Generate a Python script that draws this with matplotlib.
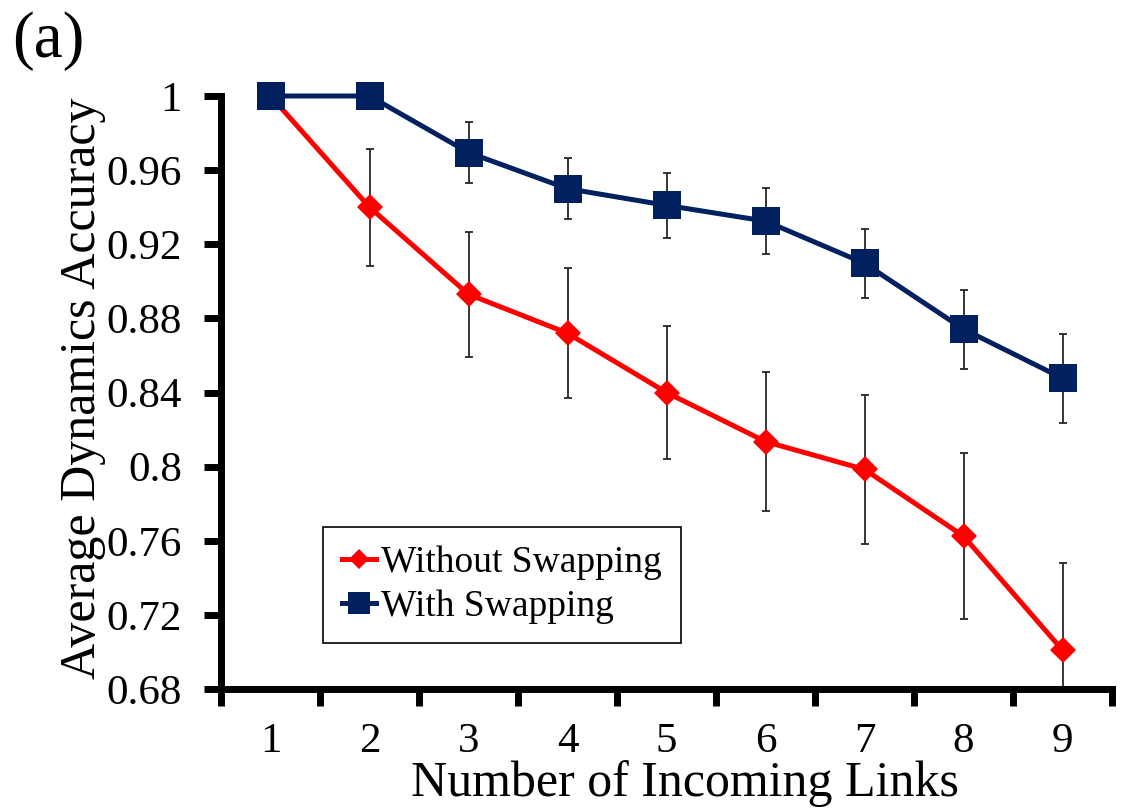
import matplotlib
matplotlib.use("Agg")
import matplotlib.pyplot as plt
from matplotlib.ticker import FixedLocator

plt.rcParams["font.family"] = ["Liberation Serif", "DejaVu Serif"]

# data
links = [1, 2, 3, 4, 5, 6, 7, 8, 9]
without_swap = [1.0, 0.940, 0.893, 0.872, 0.840, 0.8135, 0.7985, 0.7625, 0.701]
without_err = [0.0, 0.0315, 0.0337, 0.035, 0.036, 0.0376, 0.040, 0.0447, 0.047]
with_swap = [1.0, 1.0, 0.9695, 0.950, 0.941, 0.9325, 0.9097, 0.8742, 0.8477]
with_err = [0.0, 0.0, 0.0165, 0.0165, 0.0174, 0.0178, 0.0187, 0.0213, 0.024]
y_ticks = [0.68, 0.72, 0.76, 0.8, 0.84, 0.88, 0.92, 0.96, 1.0]
y_tick_labels = ["0.68", "0.72", "0.76", "0.8", "0.84", "0.88", "0.92", "0.96", "1"]

RED = "#FF0000"
NAVY = "#002060"
ERR = "#262626"

fig = plt.figure(figsize=(11.26, 8.09), dpi=100)
ax = fig.add_axes([0.19627, 0.14833, 0.79130, 0.73300])

ax.errorbar(links, without_swap, yerr=without_err, fmt="none",
            ecolor=ERR, elinewidth=1.3, capsize=2.9, capthick=1.3, zorder=2)
ax.errorbar(links, with_swap, yerr=with_err, fmt="none",
            ecolor=ERR, elinewidth=1.3, capsize=2.9, capthick=1.3, zorder=2)

ax.plot(links, without_swap, color=RED, lw=3.6, marker="D", ms=13.7,
        mew=0, label="Without Swapping", clip_on=False, zorder=3)
ax.plot(links, with_swap, color=NAVY, lw=3.6, marker="s", ms=20.5,
        mew=0, label="With Swapping", clip_on=False, zorder=4)

ax.set_xlim(0.5, 9.5)
ax.set_ylim(0.68, 1.0)

for s in ("top", "right"):
    ax.spines[s].set_visible(False)
for s in ("left", "bottom"):
    ax.spines[s].set_linewidth(5)
    ax.spines[s].set_capstyle("projecting")

ax.set_xticks(links)
ax.xaxis.set_minor_locator(FixedLocator([x + 0.5 for x in range(0, 10)]))
ax.tick_params(axis="x", which="major", length=0, pad=24, labelsize=31)
ax.tick_params(axis="x", which="minor", length=12, width=5, direction="out")
ax.set_yticks(y_ticks)
ax.set_yticklabels(y_tick_labels)
ax.tick_params(axis="y", length=12, width=5, pad=16, labelsize=31)

ax.set_xlabel("Number of Incoming Links", fontsize=36)
ax.xaxis.set_label_coords(0.521, -0.119)
ax.set_ylabel("Average Dynamics Accuracy", fontsize=36)
ax.yaxis.set_label_coords(-0.129, 0.508)

leg = ax.legend(loc="upper left", bbox_to_anchor=(0.1145, 0.2732), fontsize=27,
                frameon=True, fancybox=False, framealpha=1, edgecolor="black",
                borderpad=0.5, labelspacing=0.25, handlelength=0.9,
                handletextpad=0.15, borderaxespad=0)
leg.get_frame().set_linewidth(1.2)
leg.legend_handles[0].set_markersize(10)
leg.legend_handles[1].set_markersize(15.5)

fig.text(0.0107, 0.9295, "(a)", fontsize=47, va="baseline", ha="left")

fig.savefig("out.png", dpi=100)
